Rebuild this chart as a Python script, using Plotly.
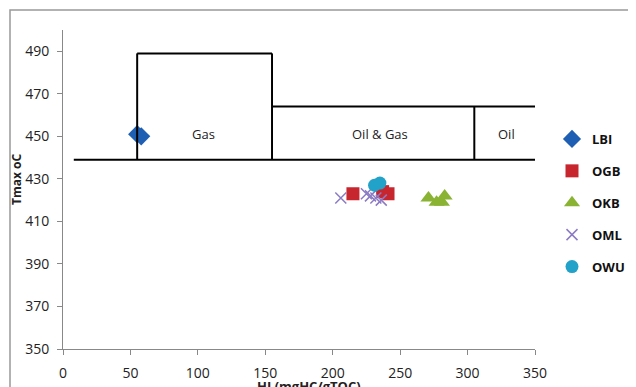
import plotly.graph_objects as go

# ---- data ----
lbi_hi = [55, 58]
lbi_tmax = [451, 450]
ogb_hi = [215, 237, 241]
ogb_tmax = [423, 424, 423]
okb_hi = [271, 277, 281, 283]
okb_tmax = [421, 419, 419, 422]
oml_hi = [206, 225, 228, 232, 236]
oml_tmax = [421, 423, 422, 421, 420]
owu_hi = [231, 235]
owu_tmax = [427, 428]

x_ticks = [0, 50, 100, 150, 200, 250, 300, 350]
y_ticks = [350, 370, 390, 410, 430, 450, 470, 490]

# zone boundaries (HI, Tmax)
base_line = [8, 350, 439]          # x0, x1, y
gas_box = [55, 155, 439, 489]      # x0, x1, y0, y1
oilgas_top = [155, 350, 464]       # x0, x1, y
oil_div = [305, 439, 464]          # x, y0, y1
zone_labels = ["Gas", "Oil & Gas", "Oil"]
zone_label_x = [104, 235, 329]
zone_label_y = [451, 451, 451]

FONT = "Open Sans"
OFF = 8  # page body margin
W, H = 636, 387
# target plot area on screen: x 63..535, y 30..349
L = 63 - OFF
T = 30 - OFF
R = W - (535 - OFF)
B = H - (349 - OFF)
PW, PH = W - L - R, H - T - B


def px2paper_x(px):
    return (px - OFF - L) / PW


def px2paper_y(py):
    return (H - B - (py - OFF)) / PH


fig = go.Figure()
series = [
    ("LBI", lbi_hi, lbi_tmax, "diamond", "#1F5FB3", 14),
    ("OGB", ogb_hi, ogb_tmax, "square", "#C8262F", 13),
    ("OKB", okb_hi, okb_tmax, "triangle-up", "#8AB334", 14),
    ("OML", oml_hi, oml_tmax, "x-thin", "#8B7BC4", 11),
    ("OWU", owu_hi, owu_tmax, "circle", "#22A2C9", 13),
]
for name, xs, ys, sym, col, sz in series:
    line = dict(width=1.5, color=col) if sym == "x-thin" else dict(width=0)
    fig.add_trace(go.Scatter(
        x=xs, y=ys, mode="markers", name=name, legendgroup=name,
        marker=dict(symbol=sym, color=col, size=sz, line=line),
    ))

lw = dict(color="black", width=2)
fig.add_shape(type="line", x0=base_line[0], x1=base_line[1], y0=base_line[2], y1=base_line[2], line=lw)
fig.add_shape(type="line", x0=gas_box[0], x1=gas_box[0], y0=gas_box[2], y1=gas_box[3], line=lw)
fig.add_shape(type="line", x0=gas_box[0], x1=gas_box[1], y0=gas_box[3], y1=gas_box[3], line=lw)
fig.add_shape(type="line", x0=gas_box[1], x1=gas_box[1], y0=gas_box[2], y1=gas_box[3], line=lw)
fig.add_shape(type="line", x0=oilgas_top[0], x1=oilgas_top[1], y0=oilgas_top[2], y1=oilgas_top[2], line=lw)
fig.add_shape(type="line", x0=oil_div[0], x1=oil_div[0], y0=oil_div[1], y1=oil_div[2], line=lw)

for t, x, y in zip(zone_labels, zone_label_x, zone_label_y):
    fig.add_annotation(x=x, y=y, text=t, showarrow=False,
                       font=dict(family=FONT, size=13, color="#222"))

# outer chart border
fig.add_shape(type="rect", xref="paper", yref="paper",
              x0=px2paper_x(10), x1=px2paper_x(680),
              y0=px2paper_y(440), y1=px2paper_y(10),
              line=dict(color="#999", width=1.5), layer="below")

# axis titles
fig.add_annotation(xref="paper", yref="paper", x=px2paper_x(309), y=px2paper_y(375),
                   xanchor="center", yanchor="top", showarrow=False,
                   text="<b>HI (mgHC/gTOC)</b>", font=dict(family=FONT, size=13, color="#222"))
fig.add_annotation(xref="paper", yref="paper", x=px2paper_x(16), y=px2paper_y(180),
                   xanchor="center", yanchor="middle", showarrow=False, textangle=-90,
                   text="<b>Tmax oC</b>", font=dict(family=FONT, size=12, color="#222"))

axis_common = dict(showgrid=False, zeroline=False, showline=True, linecolor="#888",
                   linewidth=1, ticks="outside", ticklen=5, tickcolor="#888",
                   automargin=False,
                   tickfont=dict(family=FONT, size=14, color="#222"))
fig.update_xaxes(range=[0, 350], tickvals=x_ticks, ticklabelstandoff=6, **axis_common)
fig.update_yaxes(range=[350, 500], tickvals=y_ticks, ticklabelstandoff=5, **axis_common)

fig.update_layout(
    width=W, height=H, margin=dict(l=L, r=R, t=T, b=B, autoexpand=False),
    paper_bgcolor="white", plot_bgcolor="white",
    showlegend=True,
    legend=dict(x=px2paper_x(552), y=px2paper_y(124), xanchor="left", yanchor="top",
                traceorder="grouped", tracegroupgap=12, itemwidth=30,
                font=dict(family=FONT, size=13, color="#111", weight="bold"),
                bgcolor="rgba(0,0,0,0)"),
)

fig.write_html("out.html")
